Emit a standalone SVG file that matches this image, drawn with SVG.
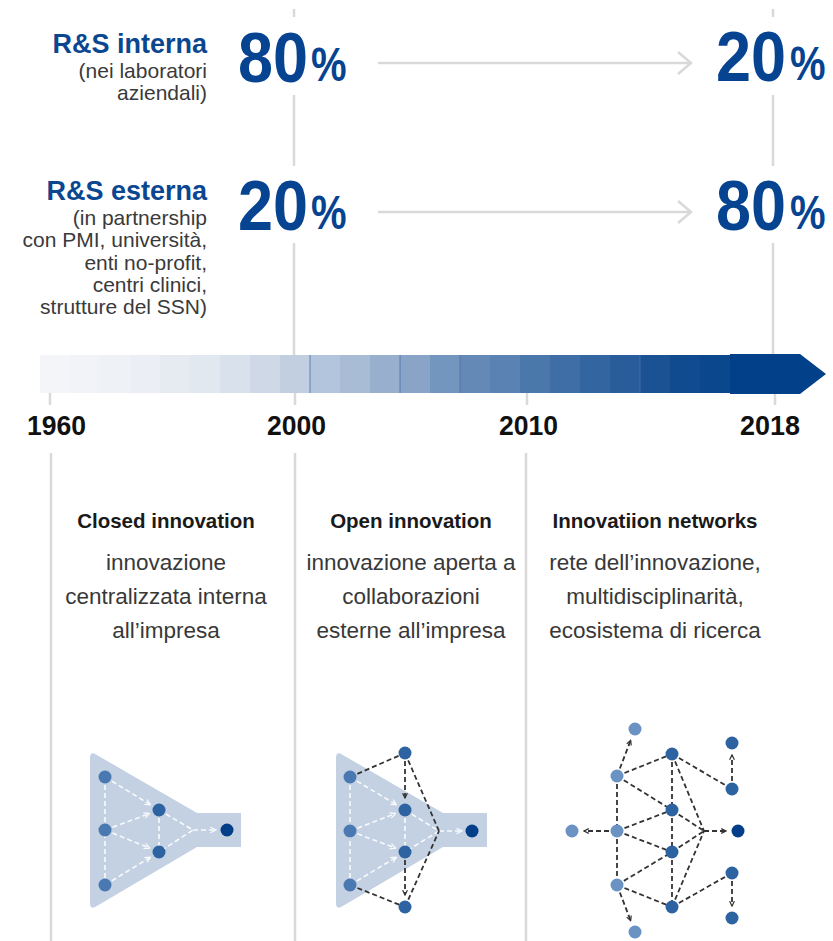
<svg xmlns="http://www.w3.org/2000/svg" width="833" height="941" viewBox="0 0 833 941">
<style>
  .lbl{font-family:"Liberation Sans",Arial,sans-serif;font-weight:bold;font-size:27px;fill:#0b4690;text-anchor:end}
  .sub{font-family:"Liberation Sans",Arial,sans-serif;font-size:21px;fill:#3a3a3a;text-anchor:end}
  .big{font-family:"Liberation Sans",Arial,sans-serif;font-weight:bold;font-size:63px;fill:#064391}
  .pct{font-family:"Liberation Sans",Arial,sans-serif;font-weight:bold;font-size:40px;fill:#064391}
  .yr{font-family:"Liberation Sans",Arial,sans-serif;font-weight:bold;font-size:28px;fill:#111}
  .ttl{font-family:"Liberation Sans",Arial,sans-serif;font-weight:bold;font-size:20.5px;fill:#1a1a1a;text-anchor:middle}
  .body{font-family:"Liberation Sans",Arial,sans-serif;font-size:22.5px;fill:#383838;text-anchor:middle}
  .grid{stroke:#d9d9d9;stroke-width:2.5;fill:none}
  .garrow{stroke:#d9d9d9;stroke-width:2.5;fill:none}
  .funnel{fill:#c3d1e3}
  .wd{stroke:#ffffff;stroke-width:1.6;stroke-dasharray:5 3;fill:none;opacity:0.9}
  .bd{stroke:#333333;stroke-width:1.8;stroke-dasharray:5 3;fill:none}
  .nl{fill:#6a92c3}
  .nm{fill:#4a78b0}
  .nd{fill:#2e63a2}
  .nx{fill:#023f88}
</style>
<defs>
  <marker id="aw" viewBox="0 0 10 10" refX="9" refY="5" markerWidth="7" markerHeight="7" markerUnits="userSpaceOnUse" orient="auto">
    <path d="M1,1 L9,5 L1,9" fill="none" stroke="#ffffff" stroke-width="1.8" stroke-dasharray="none"/>
  </marker>
  <marker id="ab" viewBox="0 0 10 10" refX="9" refY="5" markerWidth="6" markerHeight="6" markerUnits="userSpaceOnUse" orient="auto">
    <path d="M1,1 L9,5 L1,9" fill="none" stroke="#333333" stroke-width="2" stroke-dasharray="none"/>
  </marker>
</defs>

<!-- grid lines -->
<g id="grid">
  <line class="grid" x1="294" y1="9" x2="294" y2="17"/>
  <line class="grid" x1="294" y1="95" x2="294" y2="166"/>
  <line class="grid" x1="294" y1="243" x2="294" y2="356"/>
  <line class="grid" x1="773" y1="9" x2="773" y2="17"/>
  <line class="grid" x1="773" y1="95" x2="773" y2="166"/>
  <line class="grid" x1="773" y1="243" x2="773" y2="356"/>
  <line class="grid" x1="50" y1="393" x2="50" y2="405"/>
  <line class="grid" x1="295" y1="393" x2="295" y2="405"/>
  <line class="grid" x1="527" y1="393" x2="527" y2="405"/>
  <line class="grid" x1="775" y1="393" x2="775" y2="405"/>
  <line class="grid" x1="51" y1="453" x2="51" y2="941"/>
  <line class="grid" x1="295" y1="453" x2="295" y2="941"/>
  <line class="grid" x1="526" y1="453" x2="526" y2="941"/>
</g>

<!-- top rows -->
<g id="row-interna">
  <text class="lbl" x="207" y="53">R&amp;S interna</text>
  <text class="sub" x="207" y="78">(nei laboratori</text>
  <text class="sub" x="207" y="100">aziendali)</text>
  <text class="big" transform="translate(238,82) scale(1,1.11)">80</text>
  <text class="pct" transform="translate(311,81) scale(1,1.2)">%</text>
  <text class="big" transform="translate(716,81) scale(1,1.11)">20</text>
  <text class="pct" transform="translate(790,80) scale(1,1.2)">%</text>
</g>
<g id="row-esterna">
  <text class="lbl" x="207" y="200">R&amp;S esterna</text>
  <text class="sub" x="207" y="225">(in partnership</text>
  <text class="sub" x="207" y="247">con PMI, università,</text>
  <text class="sub" x="207" y="270">enti no-profit,</text>
  <text class="sub" x="207" y="292">centri clinici,</text>
  <text class="sub" x="207" y="314">strutture del SSN)</text>
  <text class="big" transform="translate(238,230) scale(1,1.11)">20</text>
  <text class="pct" transform="translate(311,229) scale(1,1.2)">%</text>
  <text class="big" transform="translate(716,230) scale(1,1.11)">80</text>
  <text class="pct" transform="translate(790,229) scale(1,1.2)">%</text>
</g>
<g id="trend-arrows">
  <line class="garrow" x1="378" y1="63" x2="691" y2="63"/>
  <polyline class="garrow" points="678,52 691,63 678,74"/>
  <line class="garrow" x1="378" y1="212" x2="691" y2="212"/>
  <polyline class="garrow" points="678,201 691,212 678,223"/>
</g>

<!-- timeline bar -->
<g id="timeline">
  <rect x="40" y="355" width="30" height="38" fill="#f3f5f9"/>
  <rect x="70" y="355" width="30" height="38" fill="#f1f3f8"/>
  <rect x="100" y="355" width="30" height="38" fill="#eef1f6"/>
  <rect x="130" y="355" width="30" height="38" fill="#ebeff5"/>
  <rect x="160" y="355" width="30" height="38" fill="#e6ebf2"/>
  <rect x="190" y="355" width="30" height="38" fill="#e2e8f0"/>
  <rect x="220" y="355" width="30" height="38" fill="#d9e1ec"/>
  <rect x="250" y="355" width="30" height="38" fill="#ced8e6"/>
  <rect x="280" y="355" width="30" height="38" fill="#c2cfe1"/>
  <rect x="310" y="355" width="30" height="38" fill="#b3c5dc"/>
  <rect x="340" y="355" width="30" height="38" fill="#a8bcd6"/>
  <rect x="370" y="355" width="30" height="38" fill="#98b0ce"/>
  <rect x="400" y="355" width="30" height="38" fill="#89a4c7"/>
  <rect x="430" y="355" width="30" height="38" fill="#7296be"/>
  <rect x="460" y="355" width="30" height="38" fill="#6589b7"/>
  <rect x="490" y="355" width="30" height="38" fill="#5a82b2"/>
  <rect x="520" y="355" width="30" height="38" fill="#4b78ab"/>
  <rect x="550" y="355" width="30" height="38" fill="#3f6ea6"/>
  <rect x="580" y="355" width="30" height="38" fill="#3366a1"/>
  <rect x="610" y="355" width="30" height="38" fill="#295c9b"/>
  <rect x="640" y="355" width="30" height="38" fill="#1b5294"/>
  <rect x="670" y="355" width="30" height="38" fill="#104b8f"/>
  <rect x="700" y="355" width="30.5" height="38" fill="#0b478c"/>
  <polygon points="730,354 800,354 826,374 800,394 730,394" fill="#03408a"/>
  <g stroke="#4a73a8" stroke-width="1" opacity="0.8">
    <line x1="310" y1="355" x2="310" y2="393"/>
    <line x1="400" y1="355" x2="400" y2="393"/>
    <line x1="460" y1="355" x2="460" y2="393"/>
    <line x1="550" y1="355" x2="550" y2="393"/>
    <line x1="640" y1="355" x2="640" y2="393"/>
  </g>
  <text class="yr" x="27" y="435" textLength="59" lengthAdjust="spacingAndGlyphs">1960</text>
  <text class="yr" x="267" y="435" textLength="59" lengthAdjust="spacingAndGlyphs">2000</text>
  <text class="yr" x="499" y="435" textLength="59" lengthAdjust="spacingAndGlyphs">2010</text>
  <text class="yr" x="740" y="435" textLength="60" lengthAdjust="spacingAndGlyphs">2018</text>
</g>

<!-- column texts -->
<g id="col-closed">
  <text class="ttl" x="166" y="528">Closed innovation</text>
  <text class="body" x="166" y="570">innovazione</text>
  <text class="body" x="166" y="604">centralizzata interna</text>
  <text class="body" x="166" y="638">all’impresa</text>
</g>
<g id="col-open">
  <text class="ttl" x="411" y="528">Open innovation</text>
  <text class="body" x="411" y="570">innovazione aperta a</text>
  <text class="body" x="411" y="604">collaborazioni</text>
  <text class="body" x="411" y="638">esterne all’impresa</text>
</g>
<g id="col-networks">
  <text class="ttl" x="655" y="528">Innovatiion networks</text>
  <text class="body" x="655" y="570">rete dell’innovazione,</text>
  <text class="body" x="655" y="604">multidisciplinarità,</text>
  <text class="body" x="655" y="638">ecosistema di ricerca</text>
</g>

<!-- funnel shapes -->
<g id="funnel-closed">
  <path class="funnel" d="M90,758 Q90,751 96,754.5 L197,813 L241,813 L241,847 L197,847 L96,906.5 Q90,910 90,903 Z"/>
</g>
<g id="funnel-open">
  <path class="funnel" d="M336,758 Q336,751 342,754.5 L443,813 L487,813 L487,847 L443,847 L342,906.5 Q336,910 336,903 Z"/>
</g>

<!-- connectors -->
<g id="connectors">
  <g id="conn-closed">
    <line class="wd" x1="105" y1="777" x2="105" y2="885"/>
    <line class="wd" x1="159" y1="810" x2="159" y2="852"/>
    <line class="wd" x1="105" y1="777" x2="150.5" y2="804.8" marker-end="url(#aw)"/>
    <line class="wd" x1="105" y1="830" x2="149.6" y2="813.5" marker-end="url(#aw)"/>
    <line class="wd" x1="105" y1="830" x2="149.7" y2="848.2" marker-end="url(#aw)"/>
    <line class="wd" x1="105" y1="885" x2="150.5" y2="857.2" marker-end="url(#aw)"/>
    <polyline class="wd" points="159,810 193,830 159,852"/>
    <line class="wd" x1="193" y1="830" x2="216" y2="830" marker-end="url(#aw)"/>
  </g>
  <g id="conn-open">
    <line class="wd" x1="350" y1="777" x2="350" y2="885"/>
    <line class="wd" x1="405" y1="810" x2="405" y2="852"/>
    <line class="wd" x1="350" y1="777" x2="396.5" y2="804.8" marker-end="url(#aw)"/>
    <line class="wd" x1="350" y1="831" x2="395.6" y2="813.5" marker-end="url(#aw)"/>
    <line class="wd" x1="350" y1="831" x2="395.7" y2="848.2" marker-end="url(#aw)"/>
    <line class="wd" x1="350" y1="885" x2="396.5" y2="857.2" marker-end="url(#aw)"/>
    <polyline class="wd" points="405,810 439,831 405,852"/>
    <line class="wd" x1="439" y1="831" x2="462" y2="831" marker-end="url(#aw)"/>
    <line class="bd" x1="350" y1="777" x2="405" y2="753"/>
    <line class="bd" x1="405" y1="753" x2="405" y2="798" marker-end="url(#ab)"/>
    <line class="bd" x1="405" y1="753" x2="439" y2="831"/>
    <line class="bd" x1="350" y1="885" x2="405" y2="907"/>
    <line class="bd" x1="405" y1="852" x2="405" y2="895" marker-end="url(#ab)"/>
    <line class="bd" x1="405" y1="907" x2="439" y2="831"/>
  </g>
  <g id="conn-networks">
    <line class="bd" x1="617" y1="776" x2="630.7" y2="740.2" marker-end="url(#ab)"/>
    <line class="bd" x1="617" y1="776" x2="672" y2="754"/>
    <line class="bd" x1="617" y1="776" x2="617" y2="831"/>
    <line class="bd" x1="617" y1="776" x2="672" y2="810"/>
    <line class="bd" x1="672" y1="754" x2="672" y2="810"/>
    <line class="bd" x1="672" y1="754" x2="732" y2="789"/>
    <line class="bd" x1="672" y1="754" x2="704" y2="831"/>
    <line class="bd" x1="732" y1="789" x2="732" y2="755" marker-end="url(#ab)"/>
    <line class="bd" x1="617" y1="831" x2="584" y2="831" marker-end="url(#ab)"/>
    <line class="bd" x1="617" y1="831" x2="672" y2="810"/>
    <line class="bd" x1="617" y1="831" x2="672" y2="852"/>
    <line class="bd" x1="617" y1="831" x2="617" y2="885"/>
    <line class="bd" x1="672" y1="810" x2="704" y2="831"/>
    <line class="bd" x1="672" y1="852" x2="704" y2="831"/>
    <line class="bd" x1="672" y1="810" x2="672" y2="852"/>
    <line class="bd" x1="672" y1="852" x2="672" y2="907"/>
    <line class="bd" x1="617" y1="885" x2="672" y2="852"/>
    <line class="bd" x1="617" y1="885" x2="672" y2="907"/>
    <line class="bd" x1="672" y1="907" x2="732" y2="873"/>
    <line class="bd" x1="672" y1="907" x2="704" y2="831"/>
    <line class="bd" x1="704" y1="831" x2="726" y2="831" marker-end="url(#ab)"/>
    <line class="bd" x1="617" y1="885" x2="630.7" y2="920.8" marker-end="url(#ab)"/>
    <line class="bd" x1="732" y1="873" x2="732" y2="906" marker-end="url(#ab)"/>
  </g>
</g>

<!-- nodes -->
<g id="nodes-closed">
  <circle id="c-a" class="nm" cx="105" cy="777" r="6.5"/>
  <circle id="c-b" class="nm" cx="105" cy="830" r="6.5"/>
  <circle id="c-c" class="nm" cx="105" cy="885" r="6.5"/>
  <circle id="c-d" class="nd" cx="159" cy="810" r="6.5"/>
  <circle id="c-e" class="nd" cx="159" cy="852" r="6.5"/>
  <circle id="c-f" class="nx" cx="227" cy="830" r="6.5"/>
</g>
<g id="nodes-open">
  <circle id="o-a" class="nm" cx="350" cy="777" r="6.5"/>
  <circle id="o-b" class="nm" cx="350" cy="831" r="6.5"/>
  <circle id="o-c" class="nm" cx="350" cy="885" r="6.5"/>
  <circle id="o-t" class="nd" cx="405" cy="753" r="6.5"/>
  <circle id="o-d" class="nd" cx="405" cy="810" r="6.5"/>
  <circle id="o-e" class="nd" cx="405" cy="852" r="6.5"/>
  <circle id="o-bt" class="nd" cx="405" cy="907" r="6.5"/>
  <circle id="o-f" class="nx" cx="472" cy="831" r="6.5"/>
</g>
<g id="nodes-networks">
  <circle id="n1" class="nl" cx="635" cy="729" r="6.5"/>
  <circle id="n2" class="nl" cx="617" cy="776" r="6.5"/>
  <circle id="n3" class="nd" cx="672" cy="754" r="6.5"/>
  <circle id="n4" class="nd" cx="732" cy="743" r="6.5"/>
  <circle id="n5" class="nd" cx="732" cy="789" r="6.5"/>
  <circle id="n6" class="nl" cx="572" cy="831" r="6.5"/>
  <circle id="n7" class="nl" cx="617" cy="831" r="6.5"/>
  <circle id="n8" class="nd" cx="672" cy="810" r="6.5"/>
  <circle id="n9" class="nx" cx="738" cy="831" r="6.5"/>
  <circle id="n10" class="nd" cx="672" cy="852" r="6.5"/>
  <circle id="n11" class="nl" cx="617" cy="885" r="6.5"/>
  <circle id="n12" class="nd" cx="672" cy="907" r="6.5"/>
  <circle id="n13" class="nd" cx="732" cy="873" r="6.5"/>
  <circle id="n14" class="nd" cx="732" cy="918" r="6.5"/>
  <circle id="n15" class="nl" cx="635" cy="932" r="6.5"/>
</g>
</svg>
